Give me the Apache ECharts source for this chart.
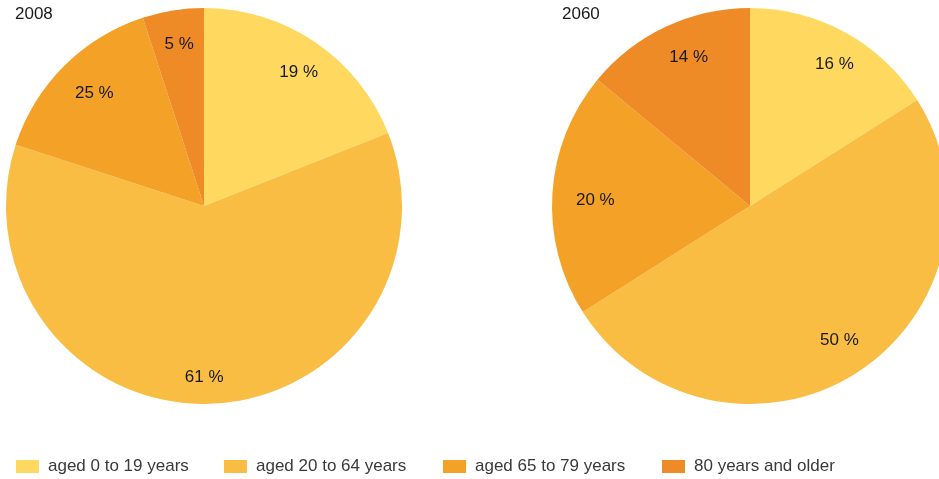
<!DOCTYPE html>
<html>
<head>
<meta charset="utf-8">
<script src="https://cdn.jsdelivr.net/npm/echarts@6/dist/echarts.min.js"></script>
<style>
html,body{margin:0;padding:0;background:#fff;}
#chart{width:939px;height:479px;}
</style>
</head>
<body>
<div id="chart"></div>
<script>
var categories = ['aged 0 to 19 years', 'aged 20 to 64 years', 'aged 65 to 79 years', '80 years and older'];
var colors = ['#FFD95F', '#F9BD44', '#F3A127', '#EF8B27'];
var years = ['2008', '2060'];
var values2008 = [19, 61, 15, 5];
var labels2008 = ['19 %', '61 %', '25 %', '5 %'];
var values2060 = [16, 50, 20, 14];
var labels2060 = ['16 %', '50 %', '20 %', '14 %'];

// small label nudges (style only)
var labelNudge2008 = [[2, 3], [-5, 6], [7, 4], [1, 1]];
var labelNudge2060 = [[5, 3], [1, -5], [10, 5], [9, 1]];

var FONT = '"Liberation Sans", Arial, Helvetica, sans-serif';
var FS = 17;
var R = 198;
var centers = [[204, 206], [750, 206]];

function pieData(vals, labs, nudges, transparent) {
  return vals.map(function (v, i) {
    return {
      name: categories[i],
      value: v,
      itemStyle: { color: transparent ? 'rgba(0,0,0,0)' : colors[i] },
      label: { formatter: labs[i], offset: nudges[i] }
    };
  });
}

var sets = [[values2008, labels2008, labelNudge2008], [values2060, labels2060, labelNudge2060]];
var series = [];
sets.forEach(function (d, k) {
  series.push({
    type: 'pie',
    center: centers[k],
    radius: [0, R],
    startAngle: 90,
    clockwise: true,
    silent: true,
    animation: false,
    label: { show: false },
    labelLine: { show: false },
    emphasis: { disabled: true },
    itemStyle: { borderWidth: 0 },
    data: pieData(d[0], d[1], d[2], false)
  });
});
sets.forEach(function (d, k) {
  series.push({
    type: 'pie',
    center: centers[k],
    radius: [126, R],
    startAngle: 90,
    clockwise: true,
    silent: true,
    animation: false,
    z: 5,
    label: {
      show: true,
      position: 'inside',
      color: '#1a1a1a',
      fontSize: FS,
      fontFamily: FONT
    },
    labelLine: { show: false },
    emphasis: { disabled: true },
    itemStyle: { borderWidth: 0 },
    data: pieData(d[0], d[1], d[2], true)
  });
});

var legendLefts = [16, 224, 443, 662];
var legends = categories.map(function (c, i) {
  return {
    left: legendLefts[i],
    top: 458,
    orient: 'horizontal',
    icon: 'rect',
    itemWidth: 23,
    itemHeight: 13,
    itemGap: 0,
    selectedMode: false,
    padding: 0,
    textStyle: { color: '#3a3a3a', fontSize: FS, fontFamily: FONT, padding: [0, 0, 0, 4] },
    data: [{ name: c, itemStyle: { color: colors[i] } }]
  };
});

var chart = echarts.init(document.getElementById('chart'), null, { renderer: 'canvas' });
chart.setOption({
  animation: false,
  backgroundColor: '#ffffff',
  title: [
    { text: years[0], left: 15, top: 6, padding: 0, textStyle: { fontSize: FS, fontWeight: 'normal', color: '#1a1a1a', fontFamily: FONT } },
    { text: years[1], left: 562, top: 6, padding: 0, textStyle: { fontSize: FS, fontWeight: 'normal', color: '#1a1a1a', fontFamily: FONT } }
  ],
  legend: legends,
  series: series
});
</script>
</body>
</html>
